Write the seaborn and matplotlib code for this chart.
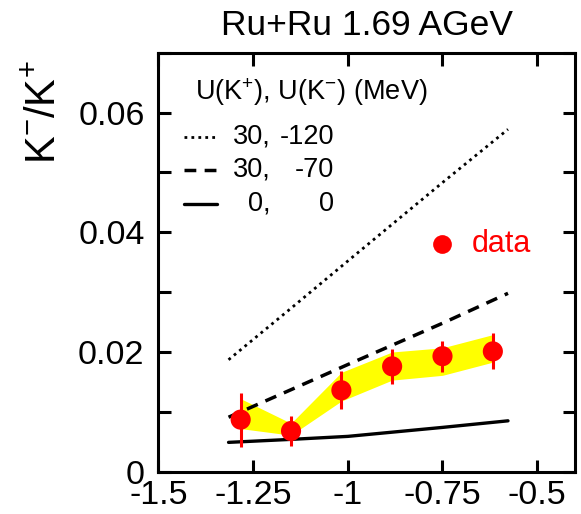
import numpy as np
import pandas as pd
import matplotlib
matplotlib.use("Agg")
import matplotlib.pyplot as plt
from matplotlib.ticker import MultipleLocator, FuncFormatter
import seaborn as sns

# --- measured K-/K+ ratio vs centrality variable ---
data_x = [-1.283, -1.150, -1.017, -0.883, -0.750, -0.617]
data_y = [0.0087, 0.0068, 0.0136, 0.0176, 0.0193, 0.0201]
data_err = [0.0045, 0.0025, 0.0032, 0.0029, 0.0026, 0.0030]
# systematic band
band_lo = [0.0072, 0.0061, 0.0118, 0.0153, 0.0161, 0.0183]
band_hi = [0.0122, 0.0081, 0.0166, 0.0200, 0.0207, 0.0229]

# --- transport model curves for different kaon potentials ---
model_x = [-1.315, -1.150, -1.000, -0.750, -0.577]
pot_120 = [0.0187, 0.0273, 0.0352, 0.0483, 0.0572]
pot_70 = [0.0091, 0.0137, 0.0179, 0.0248, 0.0298]
pot_0 = [0.0049, 0.0054, 0.0059, 0.0074, 0.0085]

legend_k = ["30,", "30,", "0,"]
legend_kbar = ["-120", "-70", "0"]

xticks = [-1.5, -1.25, -1.0, -0.75, -0.5]
yticks = [0.0, 0.02, 0.04, 0.06]

sns.set_theme(style="ticks")
plt.rcParams["font.family"] = ["Liberation Sans", "DejaVu Sans"]
plt.rcParams["axes.unicode_minus"] = False
plt.rcParams["mathtext.fontset"] = "custom"
plt.rcParams["mathtext.rm"] = "Liberation Sans"
plt.rcParams["mathtext.it"] = "Liberation Sans"
plt.rcParams["text.color"] = "black"
plt.rcParams["axes.labelcolor"] = "black"
plt.rcParams["xtick.color"] = "black"
plt.rcParams["ytick.color"] = "black"

DOT = (0, (1, 1.5))
DASH = (0, (3.4, 2.4))
styles = [(DOT, 2.0), (DASH, 2.5), ("-", 2.4)]

fig = plt.figure(figsize=(5.81, 5.14), dpi=100)
ax = fig.add_axes([0.2728, 0.0823, 0.7169, 0.8152])

labels = ["30, -120", "30, -70", "0, 0"]
curves = pd.DataFrame({
    "x": model_x * 3,
    "y": pot_120 + pot_70 + pot_0,
    "U": [labels[0]] * len(model_x) + [labels[1]] * len(model_x) + [labels[2]] * len(model_x),
})

ax.fill_between(data_x, band_lo, band_hi, color="#ffff00", linewidth=0, zorder=1)

for lab, (ls, lw) in zip(labels, styles):
    sns.lineplot(data=curves[curves["U"] == lab], x="x", y="y", ax=ax, color="black",
                 linestyle=ls, linewidth=lw, zorder=2, legend=False, estimator=None, sort=False)

ax.errorbar(data_x, data_y, yerr=data_err, fmt="none", ecolor="#ff0000", elinewidth=2.2,
            capsize=0, zorder=3)
sns.scatterplot(x=data_x, y=data_y, ax=ax, color="#ff0000", s=210, edgecolor="none",
                zorder=4, legend=False)

ax.set_xlim(-1.5, -0.4)
ax.set_ylim(0, 0.07)
ax.set_xticks(xticks)
ax.set_yticks(yticks)
ax.yaxis.set_minor_locator(MultipleLocator(0.01))
fmt = FuncFormatter(lambda v, p: "%g" % v)
ax.xaxis.set_major_formatter(fmt)
ax.yaxis.set_major_formatter(fmt)
ax.tick_params(which="both", direction="in", top=True, right=True, width=2.2, length=9,
               labelsize=24.5, colors="black")
ax.tick_params(axis="y", which="major", pad=10)
ax.tick_params(axis="x", which="major", pad=6)
for s in ax.spines.values():
    s.set_linewidth(2.2)
    s.set_color("black")
ax.set_xlabel("")
ax.set_ylabel("")

ax.set_title("Ru+Ru 1.69 AGeV", fontsize=25.5, pad=12.5, color="black")
fig.text(45 / 581, 1 - 112 / 514, r"K$^{-}$/K$^{+}$", rotation=90, ha="center", va="center",
         fontsize=30, color="black")

# legend block drawn in axes coordinates
def ax_xy(px, py):
    return (px - 158.5) / 416.5, (471.7 - py) / 419.0

hx, hy = ax_xy(195, 92)
ax.text(hx, hy, r"U(K$^{+}$), U(K$^{-}$) (MeV)", transform=ax.transAxes, fontsize=19.5,
        ha="left", va="center")
rows_py = [136.7, 170.0, 203.6]
for py, (ls, lw), k1, k2 in zip(rows_py, styles, legend_k, legend_kbar):
    x0, yy = ax_xy(184, py)
    x1, _ = ax_xy(217, py)
    ax.plot([x0, x1], [yy, yy], transform=ax.transAxes, color="black", linestyle=ls,
            linewidth=lw)
    c1, _ = ax_xy(271, py)
    c2, _ = ax_xy(334, py)
    ax.text(c1, yy, k1, transform=ax.transAxes, fontsize=19.5, ha="right", va="center")
    ax.text(c2, yy, k2, transform=ax.transAxes, fontsize=19.5, ha="right", va="center")

mx, my = ax_xy(442.3, 244.3)
ax.plot([mx], [my], "o", transform=ax.transAxes, color="#ff0000", markersize=13.5,
        markeredgewidth=0)
tx, ty = ax_xy(472, 244.5)
ax.text(tx, ty, "data", transform=ax.transAxes, fontsize=22, color="#ff0000",
        ha="left", va="center")

fig.savefig("out.png", dpi=100)
